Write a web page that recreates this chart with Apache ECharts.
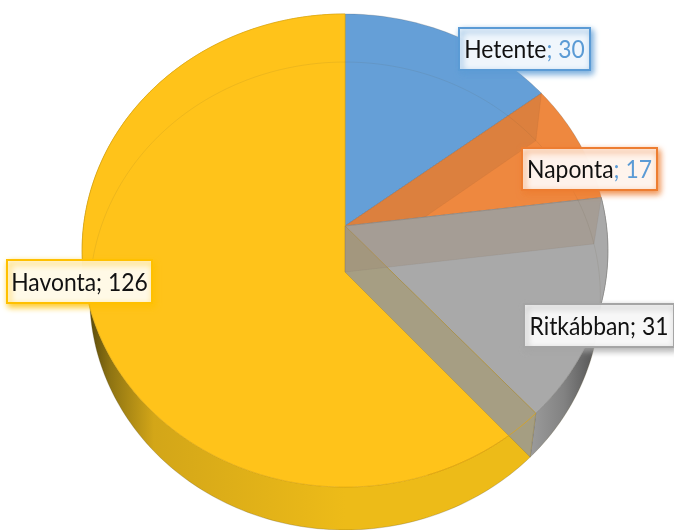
<!DOCTYPE html>
<html>
<head>
<meta charset="utf-8">
<style>
  html, body { margin: 0; padding: 0; background: #fff; }
  #chart { width: 674px; height: 530px; }
</style>
<script src="https://cdn.jsdelivr.net/npm/echarts@6/dist/echarts.min.js"></script>
</head>
<body>
<div id="chart"></div>
<script>
const categories = ["Hetente", "Naponta", "Ritkábban", "Havonta"];
const values = [30, 17, 31, 126];

const topColors = ["#659FD7", "#EE883F", "#A9A9A9", "#FFC31A"];
const borderColors = ["#5B9BD5", "#ED7D31", "#A5A5A5", "#FFC000"];
const blueValue = [true, true, false, false];

// label boxes: left, top, width, height
const labelBoxes = [
  [459, 28, 131, 42],
  [522, 148, 135, 42],
  [524, 304, 150, 43],
  [7, 260, 145, 43],
];

// perspective disc: top face and bottom face of the pie
const topPlane = { cx: 345, cy: 226, a: 234, b: 261.5, p: 0.1036 };
const lowPlane = { cx: 345, cy: 272, a: 231.5, b: 254, p: 0.1026 };

const total = values.reduce((s, v) => s + v, 0);

function project(plane, t) {
  const u = Math.sin(t);
  const v = Math.cos(t);
  const d = 1 + plane.p * v;
  return [plane.cx + (plane.b * u) / d, plane.cy - (plane.a * v) / d];
}

function sliceAngles(i) {
  let before = 0;
  for (let k = 0; k < i; k++) before += values[k];
  return [
    (before / total) * 2 * Math.PI,
    ((before + values[i]) / total) * 2 * Math.PI,
  ];
}

function arc(plane, t0, t1) {
  const n = Math.max(2, Math.ceil(Math.abs(t1 - t0) / 0.02));
  const pts = [];
  for (let i = 0; i <= n; i++) pts.push(project(plane, t0 + ((t1 - t0) * i) / n));
  return pts;
}

function apex(plane) {
  return [plane.cx, plane.cy];
}

const wallFills = {
  2: new echarts.graphic.LinearGradient(528, 0, 600, 0, [
    { offset: 0, color: "#9D9D9D" },
    { offset: 0.5, color: "#828282" },
    { offset: 1, color: "#4E4E4E" },
  ], true),
  3: new echarts.graphic.LinearGradient(90, 0, 345, 0, [
    { offset: 0, color: "#5C4C0C" },
    { offset: 0.08, color: "#8F7412" },
    { offset: 0.25, color: "#D3A618" },
    { offset: 1, color: "#EDBB18" },
  ], true),
};

function renderWall(params, api) {
  const i = params.dataIndex;
  if (!wallFills[i]) return null;
  const [t0, t1] = sliceAngles(i);
  const pts = arc(topPlane, t0, t1).concat(arc(lowPlane, t1, t0));
  return {
    type: "polygon",
    shape: { points: pts },
    style: { fill: wallFills[i], stroke: "rgba(90,80,40,0.35)", lineWidth: 0.5 },
  };
}

function renderTop(params, api) {
  const i = params.dataIndex;
  const [t0, t1] = sliceAngles(i);
  const children = [];
  children.push({
    type: "polygon",
    shape: { points: [apex(topPlane)].concat(arc(topPlane, t0, t1)) },
    style: { fill: topColors[i], stroke: i === 2 ? "#8E8E8E" : i === 3 ? "#E3AC10" : "rgba(70,70,70,0.25)", lineWidth: 0.8 },
  });
  // far wall of the orange slice shows through its top
  if (i === 1) {
    children.push({
      type: "polygon",
      shape: { points: [apex(topPlane), project(topPlane, t0), project(lowPlane, t0), apex(lowPlane)] },
      style: { fill: "rgba(180,110,60,0.3)", stroke: "rgba(150,90,50,0.25)", lineWidth: 0.5 },
    });
  }
  return { type: "group", children };
}

function renderInner(params, api) {
  const i = params.dataIndex;
  if (i !== 2) return null;
  const [t0, t1] = sliceAngles(i);
  return {
    type: "group",
    children: [
      {
        type: "polygon",
        shape: { points: [apex(topPlane), project(topPlane, t1), project(lowPlane, t1), apex(lowPlane)] },
        style: { fill: "rgba(158,155,140,0.92)", stroke: "rgba(110,105,90,0.5)", lineWidth: 0.6 },
      },
      {
        type: "polygon",
        shape: { points: [apex(topPlane), project(topPlane, t0), project(lowPlane, t0), apex(lowPlane)] },
        style: { fill: "rgba(160,140,120,0.4)", stroke: "rgba(120,110,100,0.25)", lineWidth: 0.5 },
      },
      {
        // faint outline of the bottom face seen through the top
        type: "polyline",
        shape: { points: arc(lowPlane, 0, 2 * Math.PI) },
        style: { fill: null, stroke: "rgba(90,80,50,0.1)", lineWidth: 1 },
      },
      {
        type: "polyline",
        shape: { points: arc(topPlane, t1, t1 + 0.45) },
        style: { fill: null, stroke: "rgba(225,165,15,0.9)", lineWidth: 0.8 },
      },
    ],
  };
}

function renderLabel(params, api) {
  const i = params.dataIndex;
  const [x, y, w, h] = labelBoxes[i];
  const tail = "; " + api.value(0);
  return {
    type: "group",
    children: [
      {
        type: "rect",
        shape: { x, y, width: w, height: h },
        style: {
          fill: "rgba(255,255,255,0.9)",
          stroke: borderColors[i],
          lineWidth: 2,
          shadowBlur: 6,
          shadowOffsetX: 2,
          shadowOffsetY: 3,
          shadowColor: borderColors[i],
        },
      },
      {
        type: "text",
        x: x + w / 2,
        y: y + h / 2 + 1,
        // the reference text is stretched taller than the font
        scaleX: 1.04,
        scaleY: 1.18,
        style: {
          x: 0,
          y: 0,
          align: "center",
          verticalAlign: "middle",
          text: "{n|" + categories[i] + "}{" + (blueValue[i] ? "v" : "n") + "|" + tail + "}",
          rich: {
            n: { fill: "#111111", color: "#111111", fontFamily: "Lato", fontSize: 22 },
            v: { fill: "#5B9BD5", color: "#5B9BD5", fontFamily: "Lato", fontSize: 22 },
          },
        },
      },
    ],
  };
}

function layer(renderItem, z) {
  return {
    type: "custom",
    coordinateSystem: "none",
    silent: true,
    animation: false,
    clip: false,
    z,
    renderItem,
    data: values,
  };
}

const chart = echarts.init(document.getElementById("chart"), null, { renderer: "canvas" });
chart.setOption({
  animation: false,
  backgroundColor: "#fff",
  tooltip: { show: false },
  series: [
    layer(renderWall, 1),
    layer(renderTop, 2),
    layer(renderInner, 3),
    layer(renderLabel, 4),
  ],
});
</script>
</body>
</html>
